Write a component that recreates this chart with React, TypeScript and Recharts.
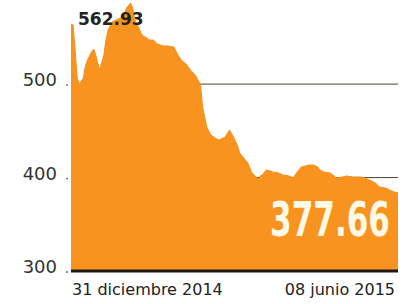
import React from 'react';
import { AreaChart, Area, XAxis, YAxis, CartesianGrid } from 'recharts';

// day offset from 31 Dec 2014 and index level
const days = [
  0, 1, 2, 3, 4, 6, 7, 8, 10, 11, 12, 13, 14, 15, 16, 17, 18, 20, 22, 24, 26, 27, 29, 30, 31, 33, 34, 35,
  37, 38, 40, 42, 45, 47, 50, 52, 54, 56, 58, 60, 61, 63, 64, 66, 68, 70, 72, 75, 77, 79, 81, 82, 84, 86,
  87, 88, 90, 91, 92, 93, 95, 97, 98, 101, 103, 106, 108, 109, 110, 112, 114, 116, 118, 120, 121, 123,
  126, 128, 129, 132, 134, 137, 141, 143, 145, 148, 150, 153, 155, 157, 159,
];
const values = [
  564.3, 563.2, 536.5, 506.5, 500.1, 506.5, 519.4, 525.8, 534.4, 537.6, 531.1, 522.6, 515.1, 523.7, 531.1,
  547.2, 557.9, 566.5, 568.6, 570.7, 575.0, 581.4, 586.8, 581.4, 568.6, 560.0, 554.7, 551.5, 549.3, 547.2,
  547.2, 542.9, 540.8, 540.8, 539.7, 531.1, 524.7, 521.5, 515.1, 510.8, 507.6, 499.0, 475.5, 454.1, 445.5,
  442.3, 440.2, 443.4, 450.9, 443.4, 433.8, 426.3, 420.9, 415.6, 410.2, 404.9, 400.6, 398.4, 401.7, 402.7,
  408.1, 407.0, 405.9, 404.9, 402.7, 401.7, 399.5, 402.7, 405.9, 411.3, 412.4, 413.4, 413.4, 411.3, 408.1,
  405.9, 404.9, 401.7, 399.5, 400.6, 401.7, 400.6, 400.6, 399.5, 397.4, 394.2, 389.9, 388.8, 386.7, 384.5,
  383.5,
];
const yTicks = [300, 400, 500];
const gridValues = [400, 500];
const xTicks = [0, 159];
const xTickLabels = ['31 diciembre 2014', '08 junio 2015'];
const peakLabel = '562.93';
const lastLabel = '377.66';

const data = days.map((d, i) => ({ day: d, value: values[i] }));

const YTick = (props: any) => {
  const { y, payload } = props;
  return (
    <g>
      <text x={57} y={y + 2} textAnchor="end" fontFamily="DejaVu Sans" fontSize={18} fill="#333">
        {payload.value}
      </text>
      <circle cx={67} cy={y + 1} r={0.9} fill="#555" />
    </g>
  );
};

const XTick = (props: any) => {
  const { x, y, payload, index } = props;
  const first = index === 0;
  return (
    <text
      x={first ? x + 1 : x - 3}
      y={y + 16}
      textAnchor={first ? 'start' : 'end'}
      fontFamily="DejaVu Sans"
      fontSize={16}
      fill="#222"
    >
      {xTickLabels[xTicks.indexOf(payload.value)]}
    </text>
  );
};

export default function App() {
  return (
    <div style={{ position: 'absolute', left: 0, top: 0, width: 410, height: 304, background: '#fff' }}>
      <AreaChart width={410} height={304} data={data} margin={{ top: 0, right: 12, bottom: 0, left: 0 }}>
        <CartesianGrid vertical={false} horizontalValues={gridValues} stroke="#4a4235" strokeWidth={1} />
        <XAxis
          dataKey="day"
          type="number"
          domain={[0, 159]}
          ticks={xTicks}
          height={33}
          axisLine={{ stroke: '#1e1a16', strokeWidth: 3 }}
          tickLine={false}
          tick={<XTick />}
          interval={0}
        />
        <YAxis
          domain={[300, 590]}
          ticks={yTicks}
          width={71}
          axisLine={false}
          tickLine={false}
          tick={<YTick />}
          allowDataOverflow
        />
        <Area
          type="linear"
          dataKey="value"
          stroke="#F6901C"
          strokeWidth={1}
          fill="#F7931E"
          fillOpacity={1}
          isAnimationActive={false}
        />
      </AreaChart>
      <svg width={410} height={304} style={{ position: 'absolute', left: 0, top: 0, pointerEvents: 'none' }}>
        <text x={78} y={25} fontFamily="DejaVu Sans" fontWeight="bold" fontSize={17} fill="#222">
          {peakLabel}
        </text>
        <text
          transform="translate(270,236) scale(0.72,1)"
          x={0}
          y={0}
          fontFamily="DejaVu Sans Condensed, DejaVu Sans"
          fontWeight="bold"
          fontSize={48}
          fill="#FFF9E6"
        >
          {lastLabel}
        </text>
      </svg>
    </div>
  );
}
